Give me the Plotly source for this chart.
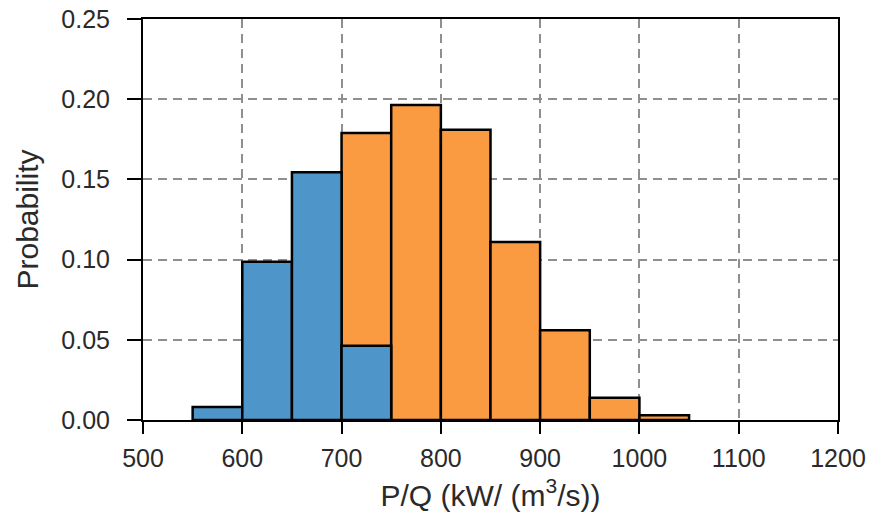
import plotly.graph_objects as go

# bin edges (left) and probabilities
blue_bins = [550, 600, 650, 700]
blue_vals = [0.0081, 0.0987, 0.1545, 0.0463]
orange_bins = [700, 750, 800, 850, 900, 950, 1000]
orange_vals = [0.179, 0.1964, 0.181, 0.111, 0.056, 0.0139, 0.003]
bin_width = 50

x_ticks = [500, 600, 700, 800, 900, 1000, 1100, 1200]
y_ticks = [0.00, 0.05, 0.10, 0.15, 0.20, 0.25]

fig = go.Figure()
fig.add_trace(go.Bar(
    x=[b + bin_width / 2 for b in orange_bins], y=orange_vals, width=bin_width,
    marker=dict(color="#FA9B42", line=dict(color="black", width=2.5)),
    showlegend=False))
fig.add_trace(go.Bar(
    x=[b + bin_width / 2 for b in blue_bins], y=blue_vals, width=bin_width,
    marker=dict(color="#4E95C9", line=dict(color="black", width=2.5)),
    showlegend=False))

font = dict(family="Liberation Sans, Arial, sans-serif", size=25, color="#2a2a2a")
fig.update_layout(
    barmode="overlay",
    width=871, height=525,
    margin=dict(l=143, r=33, t=19, b=105),
    plot_bgcolor="white", paper_bgcolor="white",
    font=font,
)
fig.update_xaxes(
    range=[500, 1200], tickvals=x_ticks, ticktext=[str(v) for v in x_ticks],
    showline=True, linecolor="black", linewidth=2, mirror=True,
    ticks="outside", ticklen=12, tickwidth=2, tickcolor="black",
    ticklabelstandoff=3,
    showgrid=True, gridcolor="#8f8f8f", gridwidth=1.5, griddash="9px,6px",
    zeroline=False, automargin=False,
    title=dict(text="P/Q (kW/ (m<sup>3</sup>/s))", standoff=14),
)
fig.update_yaxes(
    range=[0, 0.25], tickvals=y_ticks, ticktext=[f"{v:.2f}" for v in y_ticks],
    showline=True, linecolor="black", linewidth=2, mirror=True,
    ticks="outside", ticklen=14, tickwidth=2, tickcolor="black",
    ticklabelstandoff=12,
    showgrid=True, gridcolor="#8f8f8f", gridwidth=1.5, griddash="9px,6px",
    zeroline=False, automargin=False,
    title=dict(text="Probability", standoff=14),
)
fig.write_html("out.html")
